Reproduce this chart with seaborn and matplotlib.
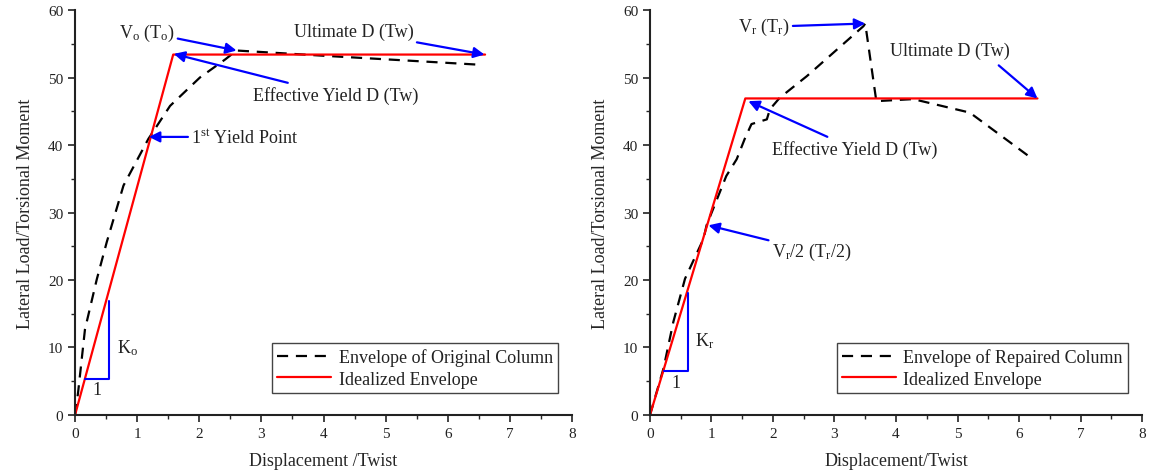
import matplotlib
matplotlib.use("Agg")
import matplotlib.pyplot as plt
import seaborn as sns
import pandas as pd

# ---------------- data ----------------
x_orig = [0, 0.05, 0.16, 0.35, 0.51, 0.78, 1.18, 1.53, 2.01, 2.42, 2.6, 4.05, 6.5]
y_orig = [0, 3.4, 12.7, 20.1, 25.6, 34.0, 40.9, 45.8, 50.0, 52.7, 54.0, 53.2, 51.9]
x_ideal_o = [0, 1.58, 6.6]
y_ideal_o = [0, 53.4, 53.4]

x_rep = [0, 0.22, 0.38, 0.57, 0.87, 0.92, 1.24, 1.41, 1.54, 1.65, 1.90, 1.95,
         2.11, 2.55, 3.47, 3.50, 3.68, 4.28, 5.2, 6.18]
y_rep = [0, 6.9, 13.8, 20.2, 26.1, 28.1, 35.4, 37.9, 40.9, 43.1, 43.8, 45.3,
         47.0, 50.2, 57.6, 58.0, 46.5, 46.8, 44.8, 38.2]
x_ideal_r = [0, 1.55, 6.3]
y_ideal_r = [0, 46.9, 46.9]

tri_o_x = [0.16, 0.54, 0.54]
tri_o_y = [5.4, 5.4, 16.9]
tri_r_x = [0.22, 0.61, 0.61]
tri_r_y = [6.5, 6.5, 18.0]

x_ticks = [0, 1, 2, 3, 4, 5, 6, 7, 8]
y_ticks = [0, 10, 20, 30, 40, 50, 60]

legend_o = ["Envelope of Original Column", "Idealized Envelope"]
legend_r = ["Envelope of Repaired Column", "Idealized Envelope"]
xlabel_o = "Displacement /Twist"
xlabel_r = "Displacement/Twist"
ylabel = "Lateral Load/Torsional Moment"

# ---------------- style ----------------
sns.set_style("ticks")
plt.rcParams["font.family"] = ["Liberation Serif", "DejaVu Serif"]
plt.rcParams["mathtext.fontset"] = "custom"
plt.rcParams["mathtext.rm"] = "Liberation Serif"
plt.rcParams["mathtext.it"] = "Liberation Serif:italic"
plt.rcParams["text.color"] = "#222222"

fig = plt.figure(figsize=(11.58, 4.77), dpi=100)
ax1 = fig.add_axes([0.0648, 0.1279, 0.4292, 0.849])
ax2 = fig.add_axes([0.5613, 0.1279, 0.4249, 0.849])

FS = 13
arrow_kw = dict(arrowstyle="-|>", color="blue", lw=1.6, mutation_scale=16,
                shrinkA=0, shrinkB=0)


def draw(ax, xd, yd, xi, yi, tx, ty, labels, xlabel):
    sns.lineplot(x=xd, y=yd, ax=ax, color="black", lw=1.6, sort=False,
                 estimator=None, label=labels[0])
    ax.lines[-1].set_dashes((5, 3.5))
    sns.lineplot(x=xi, y=yi, ax=ax, color="red", lw=1.6, sort=False,
                 estimator=None, label=labels[1])
    sns.lineplot(x=tx, y=ty, ax=ax, color="blue", lw=1.5, sort=False,
                 estimator=None, legend=False)
    ax.set_xlim(0, 8)
    ax.set_ylim(0, 60)
    ax.set_xticks(x_ticks)
    ax.set_yticks(y_ticks)
    ax.set_xticks([v + 0.5 for v in x_ticks[:-1]], minor=True)
    ax.set_yticks([v + 5 for v in y_ticks[:-1]], minor=True)
    ax.tick_params(which="major", direction="out", length=5, width=1.2,
                   labelsize=11, colors="#222222")
    ax.tick_params(which="minor", direction="out", length=3, width=1.0)
    for s in ["left", "bottom"]:
        ax.spines[s].set_linewidth(1.5)
        ax.spines[s].set_color("#222222")
    sns.despine(ax=ax)
    ax.set_xlabel(xlabel, fontsize=FS, labelpad=9)
    ax.set_ylabel(ylabel, fontsize=FS, labelpad=10)
    leg = ax.legend(loc="lower right", bbox_to_anchor=(0.972, 0.054),
                    fontsize=FS, frameon=True, fancybox=False,
                    edgecolor="#444444", framealpha=1, borderpad=0.3,
                    handlelength=3.0, handletextpad=0.4, labelspacing=0.25,
                    borderaxespad=0)
    leg.get_frame().set_linewidth(1.0)
    hl = leg.get_lines()
    hl[0].set_dashes((5, 3.5))


draw(ax1, x_orig, y_orig, x_ideal_o, y_ideal_o, tri_o_x, tri_o_y, legend_o, xlabel_o)
draw(ax2, x_rep, y_rep, x_ideal_r, y_ideal_r, tri_r_x, tri_r_y, legend_r, xlabel_r)

# ---- left annotations ----
ax1.annotate(r"V$_\mathrm{o}$ (T$_\mathrm{o}$)", xy=(2.60, 54.0), xytext=(1.60, 56.7),
             fontsize=FS, ha="right", va="center", arrowprops=arrow_kw)
ax1.annotate("Ultimate D (Tw)", xy=(6.59, 53.4), xytext=(5.45, 56.9),
             fontsize=FS, ha="right", va="center", arrowprops=arrow_kw)
ax1.annotate("Effective Yield D (Tw)", xy=(1.59, 53.5), xytext=(2.87, 47.4),
             fontsize=FS, ha="left", va="center", arrowprops=arrow_kw)
ax1.annotate(r"1$^\mathrm{st}$ Yield Point", xy=(1.19, 41.2), xytext=(1.87, 41.2),
             fontsize=FS, ha="left", va="center", arrowprops=arrow_kw)
ax1.text(0.68, 10.1, r"K$_\mathrm{o}$", fontsize=FS, ha="left", va="center")
ax1.text(0.35, 3.8, "1", fontsize=FS, ha="center", va="center")

# ---- right annotations ----
ax2.annotate(r"V$_\mathrm{r}$ (T$_\mathrm{r}$)", xy=(3.50, 58.0), xytext=(2.27, 57.5),
             fontsize=FS, ha="right", va="center", arrowprops=arrow_kw)
ax2.text(4.88, 54.0, "Ultimate D (Tw)", fontsize=FS, ha="center", va="center")
ax2.annotate("", xy=(6.30, 46.9), xytext=(5.67, 51.8), arrowprops=arrow_kw)
ax2.annotate("Effective Yield D (Tw)", xy=(1.60, 46.5), xytext=(1.98, 39.4),
             fontsize=FS, ha="left", va="center", arrowprops=arrow_kw)
ax2.annotate(r"V$_\mathrm{r}$/2 (T$_\mathrm{r}$/2)", xy=(0.95, 28.1), xytext=(1.98, 24.3),
             fontsize=FS, ha="left", va="center", arrowprops=arrow_kw)
ax2.text(0.74, 11.1, r"K$_\mathrm{r}$", fontsize=FS, ha="left", va="center")
ax2.text(0.43, 4.8, "1", fontsize=FS, ha="center", va="center")

fig.savefig("out.png", dpi=100)
